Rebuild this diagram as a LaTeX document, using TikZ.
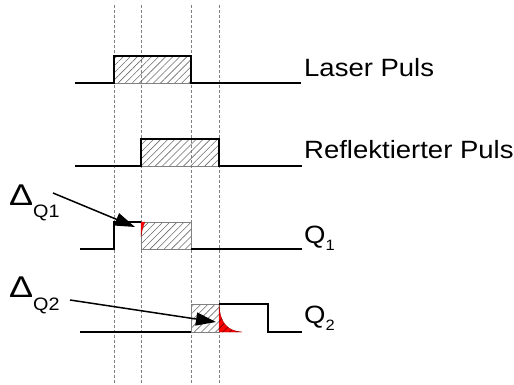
\documentclass[tikz,border=0pt]{standalone}
\usepackage{fontspec}
\setmainfont{Liberation Sans}
\usetikzlibrary{patterns.meta,arrows.meta}
\newcommand\lbltext[2]{\scalebox{1.1}[1]{\fontsize{#1}{#1}\selectfont #2}}
\newcommand\deltext{\scalebox{1.2}[1]{\fontsize{30}{30}\selectfont Δ}}
\begin{document}
\begin{tikzpicture}[x=1pt,y=-1pt,
  sig/.style={line width=1.6pt, line join=miter},
  guide/.style={gray, line width=0.5pt, dash pattern=on 3pt off 2pt},
  hatchbox/.style={draw=gray, line width=0.6pt, pattern={Lines[angle=45,distance=5pt,line width=0.6pt]}, pattern color=gray!85!black},
  redarea/.style={fill=red, draw=red!60!black, line width=0.3pt},
  redhatch/.style={pattern={Lines[angle=45,distance=5pt,line width=0.6pt]}, pattern color=red!40!black},
  ptr/.style={line width=1.5pt, -{Triangle[length=20pt,width=13pt]}},
  lbl/.style={anchor=base west, inner sep=0pt},
]
\useasboundingbox (0,0) rectangle (514,385);
% guides
\foreach \x in {114,141,191,219} \draw[guide] (\x,5) -- (\x,385);
% hatched areas
\draw[hatchbox] (114,56) rectangle (191,83);
\draw[hatchbox] (141,139) rectangle (219,166);
\draw[hatchbox] (141,222) rectangle (191,249);
\draw[hatchbox] (191,304) rectangle (219,332);
% red areas
\draw[redarea] (141,222) -- (145,222) .. controls (143,226) and (141.5,232) .. (141,237) -- cycle;
\draw[redarea] (219,304) .. controls (220,324) and (228,331) .. (242,332) -- (219,332) -- cycle;
\fill[redhatch] (219,304) .. controls (220,324) and (228,331) .. (242,332) -- (219,332) -- cycle;
% signals
\draw[sig] (75,83) -- (114,83) -- (114,56) -- (191,56) -- (191,83) -- (301,83);
\draw[sig] (75,166) -- (141,166) -- (141,139) -- (219,139) -- (219,166) -- (302,166);
\draw[sig] (80,249) -- (114,249) -- (114,222) -- (141,222);
\draw[sig] (191,249) -- (302,249);
\draw[sig] (80,332) -- (191,332);
\draw[sig] (219,304) -- (268,304) -- (268,332) -- (302,332);
% labels
\node[lbl] (laser) at (304,77) {\lbltext{25}{Laser Puls}};
\node[lbl] (refl) at (304,158) {\lbltext{25}{Reflektierter Puls}};
\node[lbl] (q1) at (304,243) {\lbltext{25}{Q}\raisebox{-7pt}{\lbltext{15}{1}}};
\node[lbl] (q2) at (304,323) {\lbltext{25}{Q}\raisebox{-7pt}{\lbltext{15}{2}}};
\node[lbl] (d1) at (9,205) {\deltext};
\node[lbl] (d1sub) at (33,217) {\lbltext{18}{Q1}};
\node[lbl] (d2) at (9,297) {\deltext};
\node[lbl] (d2sub) at (33,310) {\lbltext{18}{Q2}};
% arrows
\coordinate (d1s) at (53,193);
\coordinate (d1e) at (135,227);
\coordinate (d2s) at (70,300);
\coordinate (d2e) at (216,322);
\draw[ptr] (d1s) -- (d1e);
\draw[ptr] (d2s) -- (d2e);
\end{tikzpicture}
\end{document}
